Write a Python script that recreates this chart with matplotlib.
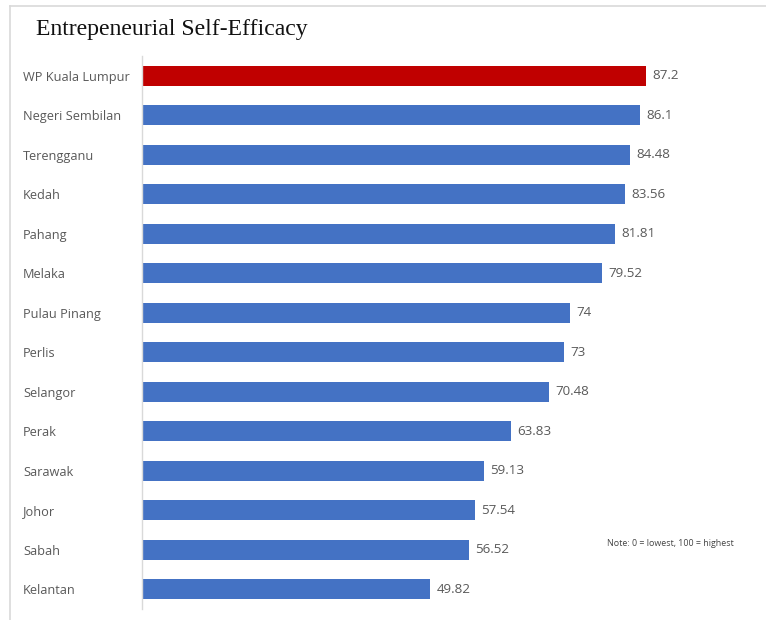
import matplotlib
matplotlib.use("Agg")
import matplotlib.pyplot as plt
from matplotlib.lines import Line2D

states = ["WP Kuala Lumpur", "Negeri Sembilan", "Terengganu", "Kedah", "Pahang",
          "Melaka", "Pulau Pinang", "Perlis", "Selangor", "Perak", "Sarawak",
          "Johor", "Sabah", "Kelantan"]
scores = [87.2, 86.1, 84.48, 83.56, 81.81, 79.52, 74, 73, 70.48, 63.83,
          59.13, 57.54, 56.52, 49.82]
score_labels = ["87.2", "86.1", "84.48", "83.56", "81.81", "79.52", "74", "73",
                "70.48", "63.83", "59.13", "57.54", "56.52", "49.82"]

RED = "#C00000"
BLUE = "#4472C4"
GREY = "#595959"

W, H = 766, 620
fig = plt.figure(figsize=(W / 100, H / 100), dpi=100)
ax = fig.add_axes([142 / W, 1 - 609 / H, 578 / W, 553 / H])

colors = [RED] + [BLUE] * (len(states) - 1)
ypos = list(range(len(states)))
ax.barh(ypos, scores, height=0.5, color=colors, edgecolor="none")

for y, v, lab in zip(ypos, scores, score_labels):
    ax.text(v + 1.1, y, lab, va="center", ha="left", fontsize=9.6,
            color=GREY, family="Open Sans")

ax.set_xlim(0, 100)
ax.set_ylim(len(states) - 0.5, -0.5)
ax.set_yticks(ypos)
ax.set_yticklabels(states, ha="left", fontsize=9.2, color=GREY, family="Open Sans")
ax.tick_params(axis="y", length=0, pad=(142 - 23) * 72 / 100)
ax.set_xticks([])
for side in ("top", "right", "bottom"):
    ax.spines[side].set_visible(False)
ax.spines["left"].set_color("#D9D9D9")
ax.spines["left"].set_linewidth(1.0)

fig.text(36 / W, 1 - 30 / H, "Entrepeneurial Self-Efficacy", fontsize=17.1,
         family="Liberation Serif", color="#111111", va="center", ha="left")

fig.text(607 / W, 1 - 543 / H, "Note: 0 = lowest, 100 = highest", fontsize=6.4,
         color="#444444", family="Open Sans", va="center", ha="left")

# light frame along the top and left edges
fig.add_artist(Line2D([10 / W, 1], [1 - 6 / H, 1 - 6 / H], transform=fig.transFigure,
                      color="#D9D9D9", linewidth=1.2))
fig.add_artist(Line2D([10 / W, 10 / W], [0, 1 - 6 / H], transform=fig.transFigure,
                      color="#D9D9D9", linewidth=1.2))

fig.savefig("out.png", dpi=100)
